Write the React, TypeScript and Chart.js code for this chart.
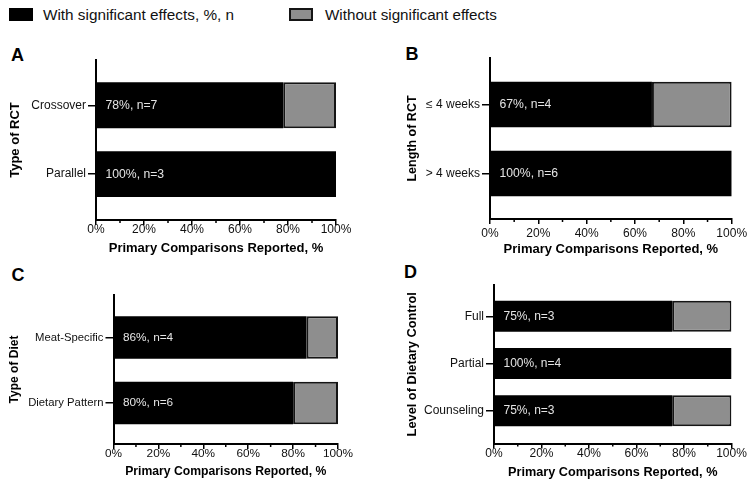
import React, { useEffect, useRef } from "react";
import { Chart, registerables } from "chart.js";

Chart.register(...registerables);

const FONT = '"Liberation Sans", Arial, Helvetica, sans-serif';
const BLACK = "#000000";
const GRAY = "#8e8e8e";
const INK = "#111111";

// ---------- data ----------
const legendLabels = ["With significant effects, %, n", "Without significant effects"];
const xAxisTitle = "Primary Comparisons Reported, %";
const xTickValues = [0, 20, 40, 60, 80, 100];
const xMinorTickValues = [10, 30, 50, 70, 90];

// Panel A – Type of RCT
const rctTypeCategories = ["Crossover", "Parallel"];
const rctTypeWith = [78, 100];
const rctTypeWithout = [22, 0];
const rctTypeN = [7, 3];

// Panel B – Length of RCT
const rctLengthCategories = ["≤ 4 weeks", "> 4 weeks"];
const rctLengthWith = [67, 100];
const rctLengthWithout = [33, 0];
const rctLengthN = [4, 6];

// Panel C – Type of Diet
const dietCategories = ["Meat-Specific", "Dietary Pattern"];
const dietWith = [86, 80];
const dietWithout = [14, 20];
const dietN = [4, 6];

// Panel D – Level of Dietary Control
const controlCategories = ["Full", "Partial", "Counseling"];
const controlWith = [75, 100, 75];
const controlWithout = [25, 0, 25];
const controlN = [3, 4, 3];

type Box = { left: number; top: number; width: number; height: number };
type Plot = { left: number; top: number; right: number; bottom: number };

type PanelSpec = {
  letter: string;
  letterPos: { left: number; top: number };
  yTitle: string;
  categories: string[];
  withVals: number[];
  withoutVals: number[];
  nVals: number[];
  canvas: Box;
  plot: Plot;
  yTitleX: number;
  xTitleY: number;
  yMin: number;
  yMax: number;
  barPct: number;
  tickSize: number;
  yTickSize: number;
  xTitleSize: number;
  yTitleSize: number;
  innerSize: number;
  xTickOffset: number;
};

const panels: PanelSpec[] = [
  {
    letter: "A",
    letterPos: { left: 11, top: 45.5 },
    yTitle: "Type of RCT",
    categories: rctTypeCategories,
    withVals: rctTypeWith,
    withoutVals: rctTypeWithout,
    nVals: rctTypeN,
    canvas: { left: 0, top: 50, width: 360, height: 210 },
    plot: { left: 96, top: 60, right: 336, bottom: 220 },
    yTitleX: 15,
    xTitleY: 248.7,
    yMin: 0.343,
    yMax: 2.665,
    barPct: 0.665,
    tickSize: 12,
    yTickSize: 12,
    xTitleSize: 13,
    yTitleSize: 13,
    innerSize: 12.2,
    xTickOffset: 10,
  },
  {
    letter: "B",
    letterPos: { left: 405.5, top: 44.7 },
    yTitle: "Length of RCT",
    categories: rctLengthCategories,
    withVals: rctLengthWith,
    withoutVals: rctLengthWithout,
    nVals: rctLengthN,
    canvas: { left: 398, top: 48, width: 356, height: 212 },
    plot: { left: 490, top: 58, right: 731.7, bottom: 219 },
    yTitleX: 412.5,
    xTitleY: 249,
    yMin: 0.325,
    yMax: 2.662,
    barPct: 0.66,
    tickSize: 12,
    yTickSize: 12,
    xTitleSize: 13,
    yTitleSize: 12.5,
    innerSize: 12.2,
    xTickOffset: 14.5,
  },
  {
    letter: "C",
    letterPos: { left: 11.5, top: 265.7 },
    yTitle: "Type of Diet",
    categories: dietCategories,
    withVals: dietWith,
    withoutVals: dietWithout,
    nVals: dietN,
    canvas: { left: 0, top: 285, width: 360, height: 198 },
    plot: { left: 113.5, top: 295, right: 338, bottom: 444 },
    yTitleX: 15,
    xTitleY: 472,
    yMin: 0.351,
    yMax: 2.626,
    barPct: 0.65,
    tickSize: 11.8,
    yTickSize: 11.3,
    xTitleSize: 12.2,
    yTitleSize: 12,
    innerSize: 11.8,
    xTickOffset: 9.3,
  },
  {
    letter: "D",
    letterPos: { left: 404, top: 262.7 },
    yTitle: "Level of Dietary Control",
    categories: controlCategories,
    withVals: controlWith,
    withoutVals: controlWithout,
    nVals: controlN,
    canvas: { left: 398, top: 275, width: 356, height: 208 },
    plot: { left: 494, top: 285, right: 731.5, bottom: 443.5 },
    yTitleX: 412.5,
    xTitleY: 472,
    yMin: 0.337,
    yMax: 3.695,
    barPct: 0.657,
    tickSize: 12,
    yTickSize: 12,
    xTitleSize: 12.7,
    yTitleSize: 12.8,
    innerSize: 12,
    xTickOffset: 10,
  },
];

function Panel({ spec }: { spec: PanelSpec }) {
  const ref = useRef<HTMLCanvasElement | null>(null);

  useEffect(() => {
    const canvas = ref.current;
    if (!canvas) return;
    const s = spec;
    const c = s.canvas;
    const p = s.plot;
    const yAxisWidth = p.left - c.left;
    const xAxisHeight = c.top + c.height - p.bottom;
    const padTop = p.top - c.top;
    const padRight = c.left + c.width - p.right;
    const xTickLen = 5;
    const xTickPad = s.xTickOffset - xTickLen - 0.6 * s.tickSize;
    const xTitlePadBottom = c.top + c.height - s.xTitleY - 0.6 * s.xTitleSize;
    const yTitlePadTop = s.yTitleX - c.left - 0.6 * s.yTitleSize;

    const minorTicks = {
      id: "minorTicks",
      afterDraw(chart: any) {
        const x = chart.scales.x;
        const ctx = chart.ctx;
        const yb = chart.chartArea.bottom;
        ctx.save();
        ctx.strokeStyle = BLACK;
        ctx.lineWidth = 1.5;
        for (const v of xMinorTickValues) {
          const px = x.getPixelForValue(v);
          ctx.beginPath();
          ctx.moveTo(px, yb);
          ctx.lineTo(px, yb + 3);
          ctx.stroke();
        }
        ctx.restore();
      },
    };

    const innerLabels = {
      id: "innerLabels",
      afterDatasetsDraw(chart: any) {
        const x = chart.scales.x;
        const y = chart.scales.y;
        const ctx = chart.ctx;
        ctx.save();
        ctx.font = `${s.innerSize}px ${FONT}`;
        ctx.fillStyle = "#e4e4e4";
        ctx.textAlign = "left";
        ctx.textBaseline = "middle";
        s.withVals.forEach((v, i) => {
          const px = x.getPixelForValue(0) + 9.5;
          const py = y.getPixelForValue(i + 1);
          ctx.fillText(`${v}%, n=${s.nVals[i]}`, px, py);
        });
        ctx.restore();
      },
    };

    const chart = new Chart(canvas, {
      type: "bar",
      data: {
        datasets: [
          {
            label: legendLabels[0],
            data: s.withVals.map((v, i) => ({ x: v, y: i + 1 })),
            backgroundColor: BLACK,
            borderColor: BLACK,
            borderWidth: 0,
            borderSkipped: false,
            barPercentage: s.barPct,
            categoryPercentage: 1,
          },
          {
            label: legendLabels[1],
            data: s.withoutVals.map((v, i) => ({ x: v, y: i + 1 })),
            backgroundColor: GRAY,
            borderColor: "#151515",
            borderWidth: 2,
            borderSkipped: false,
            barPercentage: s.barPct,
            categoryPercentage: 1,
          },
        ],
      } as any,
      options: {
        indexAxis: "y",
        responsive: false,
        maintainAspectRatio: false,
        devicePixelRatio: 1,
        animation: false,
        events: [],
        layout: { padding: { top: padTop, right: padRight, left: 0, bottom: 0 } },
        plugins: {
          legend: { display: false },
          tooltip: { enabled: false },
          title: { display: false },
        },
        scales: {
          x: {
            type: "linear",
            stacked: true,
            offset: false,
            min: 0,
            max: 100,
            afterBuildTicks: (scale: any) => {
              scale.ticks = xTickValues.map((v) => ({ value: v }));
            },
            afterFit: (scale: any) => {
              scale.height = xAxisHeight;
            },
            ticks: {
              callback: (v: any) => `${v}%`,
              font: { family: FONT, size: s.tickSize },
              color: INK,
              padding: xTickPad,
              maxRotation: 0,
              autoSkip: false,
            },
            grid: {
              display: true,
              offset: false,
              drawOnChartArea: false,
              drawTicks: true,
              tickLength: xTickLen,
              color: BLACK,
              lineWidth: 1.5,
            },
            border: { display: true, color: BLACK, width: 2 },
            title: {
              display: true,
              text: xAxisTitle,
              color: BLACK,
              font: { family: FONT, size: s.xTitleSize, weight: "bold" },
              padding: { top: 0, bottom: xTitlePadBottom },
            },
          },
          y: {
            type: "linear",
            stacked: true,
            reverse: true,
            offset: false,
            bounds: "data",
            min: s.yMin,
            max: s.yMax,
            afterBuildTicks: (scale: any) => {
              scale.ticks = s.categories.map((_, i) => ({ value: i + 1 }));
            },
            afterFit: (scale: any) => {
              scale.width = yAxisWidth;
            },
            ticks: {
              callback: (v: any) => s.categories[Math.round(Number(v)) - 1] ?? "",
              font: { family: FONT, size: s.yTickSize },
              color: INK,
              padding: 2,
              autoSkip: false,
            },
            grid: {
              display: true,
              offset: false,
              drawOnChartArea: false,
              drawTicks: true,
              tickLength: 8,
              color: BLACK,
              lineWidth: 1.5,
            },
            border: { display: true, color: BLACK, width: 2 },
            title: {
              display: true,
              text: s.yTitle,
              color: BLACK,
              font: { family: FONT, size: s.yTitleSize, weight: "bold" },
              padding: { top: yTitlePadTop, bottom: 0 },
            },
          },
        },
      } as any,
      plugins: [minorTicks, innerLabels],
    });

    return () => chart.destroy();
  }, [spec]);

  const c = spec.canvas;
  return (
    <>
      <div
        style={{
          position: "absolute",
          left: spec.letterPos.left,
          top: spec.letterPos.top,
          fontFamily: FONT,
          fontWeight: "bold",
          fontSize: 18,
          lineHeight: "18px",
          color: BLACK,
        }}
      >
        {spec.letter}
      </div>
      <canvas
        ref={ref}
        width={c.width}
        height={c.height}
        style={{ position: "absolute", left: c.left, top: c.top, width: c.width, height: c.height, display: "block" }}
      />
    </>
  );
}

export default function App() {
  return (
    <div
      style={{
        position: "fixed",
        left: 0,
        top: 0,
        width: 755,
        height: 483,
        background: "#ffffff",
        overflow: "hidden",
      }}
    >
      <div style={{ position: "absolute", left: 9, top: 8, width: 24, height: 13, background: BLACK }} />
      <div
        style={{
          position: "absolute",
          left: 43,
          top: 7,
          fontFamily: FONT,
          fontSize: 15.3,
          lineHeight: "15px",
          color: INK,
          whiteSpace: "nowrap",
        }}
      >
        {legendLabels[0]}
      </div>
      <div
        style={{
          position: "absolute",
          left: 289,
          top: 8,
          width: 24,
          height: 13,
          boxSizing: "border-box",
          background: GRAY,
          border: "2px solid #151515",
        }}
      />
      <div
        style={{
          position: "absolute",
          left: 325,
          top: 7,
          fontFamily: FONT,
          fontSize: 15.2,
          lineHeight: "15px",
          color: INK,
          whiteSpace: "nowrap",
        }}
      >
        {legendLabels[1]}
      </div>
      {panels.map((p) => (
        <Panel key={p.letter} spec={p} />
      ))}
    </div>
  );
}
